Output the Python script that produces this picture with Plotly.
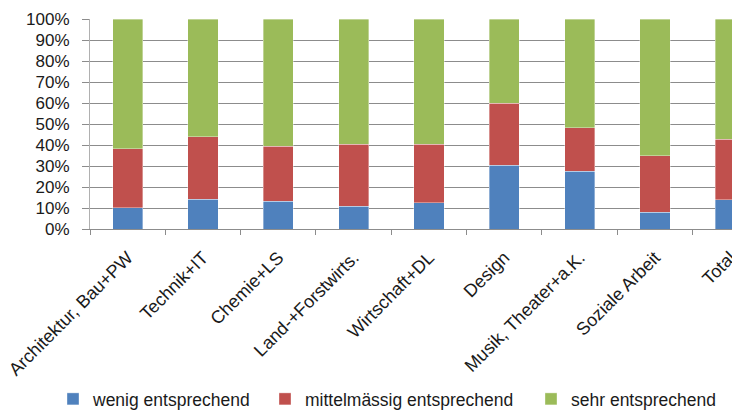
import plotly.graph_objects as go

categories = ["Architektur, Bau+PW", "Technik+IT", "Chemie+LS", "Land-+Forstwirts.",
              "Wirtschaft+DL", "Design", "Musik, Theater+a.K.", "Soziale Arbeit", "Total"]
wenig = [10.2, 14.2, 13.2, 10.8, 12.4, 30.3, 27.4, 8.0, 14.0]
mittel = [28.0, 29.7, 26.3, 29.6, 28.0, 29.6, 20.8, 26.9, 28.7]
sehr = [61.8, 56.1, 60.5, 59.6, 59.6, 40.1, 51.8, 65.1, 57.3]
series_names = ["wenig entsprechend", "mittelmässig entsprechend", "sehr entsprechend"]
colors = ["#4F81BD", "#C0504D", "#9BBB59"]
y_ticks = list(range(0, 101, 10))
y_tick_labels = [f"{v}%" for v in y_ticks]

FONT = "Liberation Sans, Arial, sans-serif"
W, H = 732, 412

fig = go.Figure()
legend_ids = ["legend", "legend2", "legend3"]
for vals, name, col, lg in zip([wenig, mittel, sehr], series_names, colors, legend_ids):
    fig.add_trace(go.Bar(x=categories, y=vals, name=name, marker_color=col,
                         marker_line=dict(color="rgba(255,255,255,0.6)", width=0.6),
                         legend=lg))

text_starts = [93, 305, 571]
legend_common = dict(orientation="h", xref="container", yref="container",
                     xanchor="left", yanchor="middle", bgcolor="rgba(0,0,0,0)",
                     borderwidth=0, font=dict(family=FONT, size=17.5, color="#1a1a1a"))
legends = {}
for lg, ts in zip(legend_ids, text_starts):
    legends[lg] = dict(x=(ts - 40) / W, y=13 / H, **legend_common)

fig.update_layout(
    width=W, height=H,
    barmode="stack", barnorm="percent", bargap=0.6,
    plot_bgcolor="white", paper_bgcolor="white",
    margin=dict(l=90, r=0, t=19, b=183),
    font=dict(family=FONT, size=17, color="#1a1a1a"),
    showlegend=True,
    **legends,
)
fig.update_xaxes(
    type="category", range=[-0.5, -0.5 + 642 / 75.33], automargin=False,
    tickangle=-45, tickson="boundaries", ticks="outside", ticklen=5,
    tickcolor="#8c8c8c", showline=True, linecolor="#8c8c8c", linewidth=1,
    showgrid=False, ticklabelstandoff=10,
    tickfont=dict(family=FONT, size=18, color="#1a1a1a"),
)
fig.update_yaxes(
    range=[0, 100], tickmode="array", tickvals=y_ticks, ticktext=y_tick_labels,
    automargin=False,
    ticks="outside", ticklen=7, tickcolor="#8c8c8c",
    showline=True, linecolor="#b0b0b0", linewidth=1,
    showgrid=True, gridcolor="#8c8c8c", gridwidth=1, zeroline=False,
    ticklabelstandoff=9,
    tickfont=dict(family=FONT, size=17, color="#1a1a1a"),
)

fig.write_html("out.html", config={"displayModeBar": False},
               post_script="document.body.style.margin='0';")
